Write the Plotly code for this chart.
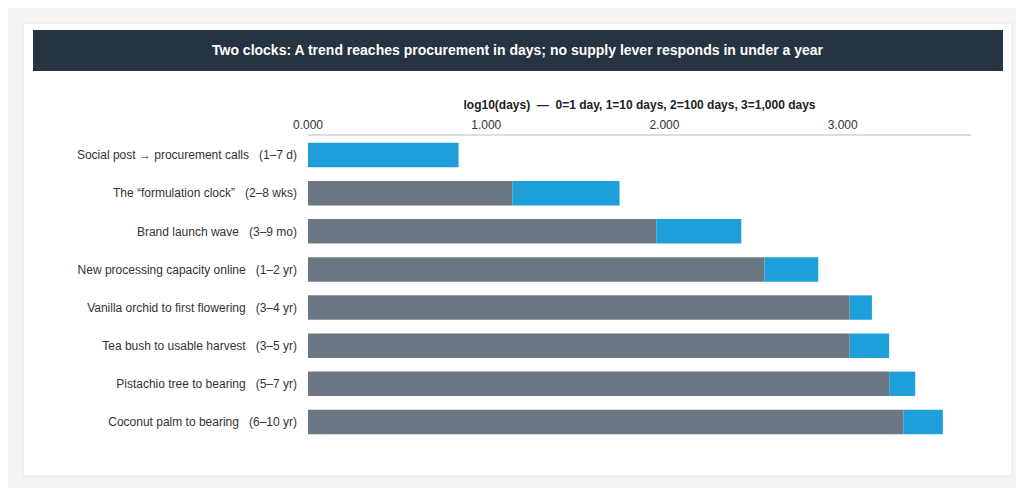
import plotly.graph_objects as go

# categories and values (log10 of days)
labels = [
    "Social post \u2192 procurement calls   (1\u20137 d)",
    "The \u201cformulation clock\u201d   (2\u20138 wks)",
    "Brand launch wave   (3\u20139 mo)",
    "New processing capacity online   (1\u20132 yr)",
    "Vanilla orchid to first flowering   (3\u20134 yr)",
    "Tea bush to usable harvest   (3\u20135 yr)",
    "Pistachio tree to bearing   (5\u20137 yr)",
    "Coconut palm to bearing   (6\u201310 yr)",
]
low = [0.000, 1.146, 1.954, 2.562, 3.039, 3.039, 3.261, 3.340]
high = [0.845, 1.748, 2.431, 2.863, 3.164, 3.261, 3.407, 3.562]
spread = [h - l for h, l in zip(high, low)]
tick_vals = [0, 1, 2, 3]
tick_text = ["0.000", "1.000", "2.000", "3.000"]

fig = go.Figure()
fig.add_trace(go.Bar(y=labels, x=low, orientation="h", marker_color="#6b7883",
                     marker_line_width=0, hoverinfo="x+y"))
fig.add_trace(go.Bar(y=labels, x=spread, base=low, orientation="h", marker_color="#1f9fd9",
                     marker_line_width=0, hoverinfo="x+y"))

fig.update_layout(
    width=1024, height=488, barmode="overlay", bargap=0.36, showlegend=False,
    paper_bgcolor="#f4f5f6", plot_bgcolor="white",
    font=dict(family="Liberation Sans, Arial, sans-serif", size=12, color="#2b2b2b"),
    margin=dict(l=300, r=61, t=128, b=55),
)
fig.update_xaxes(side="top", range=[0, 3.72], tickvals=tick_vals, ticktext=tick_text,
                 showgrid=False, zeroline=False, showline=True, linecolor="#dddddd",
                 linewidth=1.5, ticks="", tickfont=dict(size=12, color="#333"),
                 title=dict(text="<b>log10(days)  \u2014  0=1 day, 1=10 days, 2=100 days, 3=1,000 days</b>",
                            font=dict(size=12, color="#222"), standoff=6))
fig.update_yaxes(autorange="reversed", showgrid=False, ticks="", ticksuffix="   ",
                 tickfont=dict(size=12, color="#333"))

# card and banner
fig.add_shape(type="rect", xref="paper", yref="paper", layer="below",
              x0=-285 / 663, x1=1004 / 663 - 300 / 663, y0=-35 / 305, y1=1 + 113 / 305,
              fillcolor="white", line=dict(color="#e6e6e6", width=1))
fig.add_shape(type="rect", xref="paper", yref="paper", layer="above",
              x0=-275 / 663, x1=695 / 663, y0=1 + 65 / 305, y1=1 + 106 / 305,
              fillcolor="#263340", line_width=0)
fig.add_annotation(xref="paper", yref="paper", x=(510 - 300) / 663, y=1 + 85.5 / 305,
                   text="<b>Two clocks: A trend reaches procurement in days; no supply lever responds in under a year</b>",
                   showarrow=False, font=dict(size=14, color="white"), xanchor="center", yanchor="middle")

fig.write_html("out.html")
